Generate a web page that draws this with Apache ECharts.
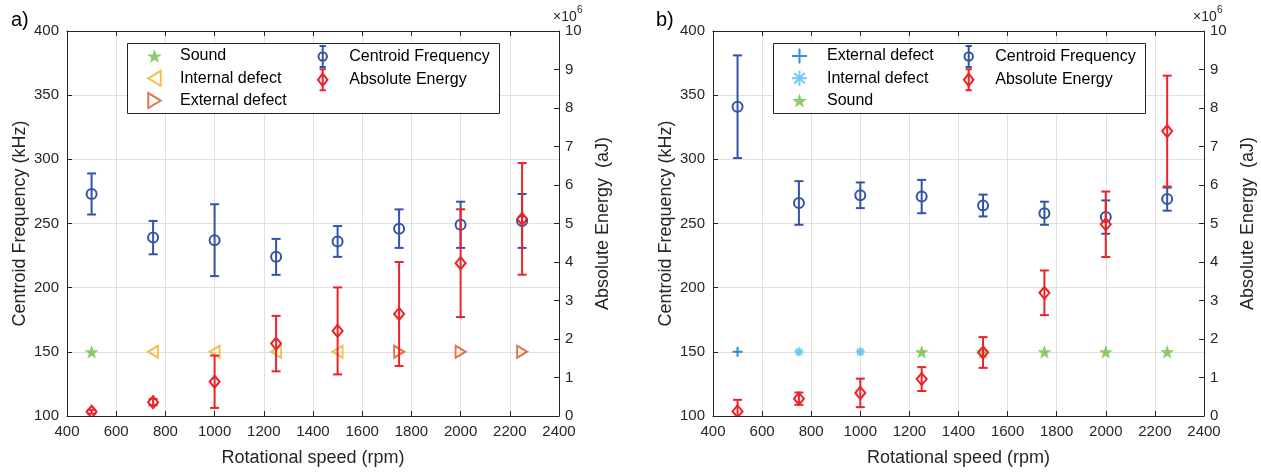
<!DOCTYPE html>
<html><head><meta charset="utf-8">
<script src="https://cdn.jsdelivr.net/npm/echarts@6/dist/echarts.min.js"></script>
<style>html,body{margin:0;padding:0;background:#fff}#c{width:1261px;height:472px}</style>
</head><body><div id="c"></div>
<script>
// ---------- DATA ----------
const rpm = [500, 750, 1000, 1250, 1500, 1750, 2000, 2250];
const xTicks = [400, 2400, 200];          // min, max, step
const cfTicks = [100, 400, 50];
const aeTicks = [0, 10, 1];               // ×10^6 aJ

// Panel a
const cfA    = [273, 239, 237, 224, 236, 246, 249, 252];
const cfErrA = [16, 13, 28, 14, 12, 15, 18, 21];
const aeA    = [0.11, 0.36, 0.89, 1.88, 2.21, 2.65, 3.97, 5.12];   // ×10^6 aJ
const aeErrA = [0.05, 0.08, 0.68, 0.72, 1.13, 1.35, 1.40, 1.45];
const soundA    = [500];
const internalA = [750, 1000, 1250, 1500];
const externalA = [1750, 2000, 2250];

// Panel b
const cfB    = [341, 266, 272, 271, 264, 258, 255, 269];
const cfErrB = [40, 17, 10, 13, 8.5, 9, 13, 9];
const aeB    = [0.12, 0.45, 0.60, 0.96, 1.65, 3.20, 4.98, 7.40];   // ×10^6 aJ
const aeErrB = [0.30, 0.16, 0.37, 0.31, 0.40, 0.58, 0.85, 1.44];
const externalB = [500];
const internalB = [750, 1000];
const soundB    = [1250, 1500, 1750, 2000, 2250];

const classLevel = 150;   // kHz, level at which the class markers are drawn

// ---------- STYLE ----------
const BLUE = '#3354A6', RED = '#EE2229', GREEN = '#6DBE45',
      YEL = '#EDB120', ORG = '#D95319', DBLUE = '#0072BD', LBLUE = '#4DBEEE',
      AX = '#262626', GRID = '#E0E0E0', FONT = 'Liberation Sans, Arial, sans-serif';

const STAR = 'path://M50,0 L61.8,35.1 L98.1,35.1 L68.7,56.7 L79.4,90.5 L50,69.1 L20.6,90.5 L31.3,56.7 L1.9,35.1 L38.2,35.1 Z';
const TRI_L = 'path://M0,6 L10,0 L10,12 Z';
const TRI_R = 'path://M10,6 L0,0 L0,12 Z';
const PLUS = 'path://M0,5 L10,5 M5,0 L5,10';
const AST = 'path://M5,0 L5,10 M0,5 L10,5 M1.5,1.5 L8.5,8.5 M1.5,8.5 L8.5,1.5';
const PHI = 'path://M2,0 L8,0 M5,0 L5,20 M2,20 L8,20 M9,10 A4,4 0 1,1 1,10 A4,4 0 1,1 9,10';
const DIA = 'path://M2,0 L8,0 M5,0 L5,20 M2,20 L8,20 M5,4 L9.5,10 L5,16 L0.5,10 Z';

function errRender(shape, color) {
  return function (params, api) {
    const x = api.value(0), y = api.value(1), e = api.value(2);
    const c = api.coord([x, y]);
    const top = api.coord([x, y + e]);
    const bot = api.coord([x, y - e]);
    const cs = params.coordSys;
    const yMin = cs.y, yMax = cs.y + cs.height;
    const t = Math.max(top[1], yMin), b = Math.min(bot[1], yMax);
    const st = { stroke: color, lineWidth: 2, fill: null };
    const cap = 4.5;
    const ch = [{ type: 'line', shape: { x1: c[0], y1: t, x2: c[0], y2: b }, style: st }];
    if (top[1] >= yMin) ch.push({ type: 'line', shape: { x1: c[0] - cap, y1: top[1], x2: c[0] + cap, y2: top[1] }, style: st });
    if (bot[1] <= yMax) ch.push({ type: 'line', shape: { x1: c[0] - cap, y1: bot[1], x2: c[0] + cap, y2: bot[1] }, style: st });
    if (shape === 'circle') {
      ch.push({ type: 'circle', shape: { cx: c[0], cy: c[1], r: 5 }, style: { stroke: color, lineWidth: 2, fill: 'rgba(0,0,0,0)' } });
    } else {
      ch.push({ type: 'polygon', shape: { points: [[c[0], c[1] - 6], [c[0] + 5, c[1]], [c[0], c[1] + 6], [c[0] - 5, c[1]]] },
                style: { stroke: color, lineWidth: 2, fill: 'rgba(0,0,0,0)' } });
    }
    return { type: 'group', children: ch };
  };
}

function xAxes(grid) {
  const base = { gridIndex: grid, type: 'value', min: xTicks[0], max: xTicks[1], interval: xTicks[2],
    axisLine: { onZero: false, lineStyle: { color: AX, width: 1 } },
    axisTick: { inside: true, length: 5, lineStyle: { color: AX } } };
  return [
    Object.assign({}, base, { position: 'bottom',
      axisLabel: { fontSize: 15, color: AX, margin: 8, fontFamily: FONT, formatter: v => String(v) },
      splitLine: { show: true, lineStyle: { color: GRID, width: 1 } },
      name: 'Rotational speed (rpm)', nameLocation: 'middle', nameGap: 33,
      nameTextStyle: { fontSize: 18, color: AX, fontFamily: FONT } }),
    Object.assign({}, base, { position: 'top', axisLabel: { show: false }, splitLine: { show: false } })
  ];
}
function yAxes(grid) {
  return [
    { gridIndex: grid, type: 'value', position: 'left', min: cfTicks[0], max: cfTicks[1], interval: cfTicks[2],
      axisLine: { show: true, onZero: false, lineStyle: { color: AX } },
      axisTick: { show: true, inside: true, length: 5, lineStyle: { color: AX } },
      axisLabel: { fontSize: 15, color: AX, margin: 8, fontFamily: FONT },
      splitLine: { show: true, lineStyle: { color: GRID, width: 1 } },
      name: 'Centroid Frequency (kHz)', nameLocation: 'middle', nameGap: 38,
      nameTextStyle: { fontSize: 18, color: AX, fontFamily: FONT } },
    { gridIndex: grid, type: 'value', position: 'right', min: aeTicks[0], max: aeTicks[1], interval: aeTicks[2],
      axisLine: { show: true, onZero: false, lineStyle: { color: AX } },
      axisTick: { show: true, inside: true, length: 5, lineStyle: { color: AX } },
      axisLabel: { fontSize: 15, color: AX, margin: 6, fontFamily: FONT },
      splitLine: { show: false },
      name: 'Absolute Energy  (aJ)', nameLocation: 'middle', nameGap: 35,
      nameTextStyle: { fontSize: 18, color: AX, fontFamily: FONT } }
  ];
}

function pts(xs) { return xs.map(x => [x, classLevel]); }
function errData(ys, es) { return rpm.map((r, i) => [r, ys[i], es[i]]); }

const hollow = c => ({ color: 'rgba(0,0,0,0)', borderColor: c, borderWidth: 2 });
const stroke = c => ({ color: 'rgba(0,0,0,0)', borderColor: c, borderWidth: 2 });

const series = [
  // panel a
  { name: 'Sound', type: 'scatter', xAxisIndex: 0, yAxisIndex: 0, data: pts(soundA), symbol: STAR, symbolSize: 14, itemStyle: { color: GREEN }, z: 3 },
  { name: 'Internal defect', type: 'scatter', xAxisIndex: 0, yAxisIndex: 0, data: pts(internalA), symbol: TRI_L, symbolSize: [10, 12], itemStyle: hollow(YEL), z: 3 },
  { name: 'External defect', type: 'scatter', xAxisIndex: 0, yAxisIndex: 0, data: pts(externalA), symbol: TRI_R, symbolSize: [10, 12], itemStyle: hollow(ORG), z: 3 },
  { name: 'Centroid Frequency', type: 'custom', xAxisIndex: 0, yAxisIndex: 0, data: errData(cfA, cfErrA), encode: { x: 0, y: 1 }, renderItem: errRender('circle', BLUE), clip: true, z: 4 },
  { name: 'Absolute Energy', type: 'custom', xAxisIndex: 0, yAxisIndex: 1, data: errData(aeA, aeErrA), encode: { x: 0, y: 1 }, renderItem: errRender('diamond', RED), clip: true, z: 5 },
  // panel b
  { name: 'External defect (b)', type: 'scatter', xAxisIndex: 2, yAxisIndex: 2, data: pts(externalB), symbol: PLUS, symbolSize: 10, itemStyle: stroke(DBLUE), z: 3 },
  { name: 'Internal defect (b)', type: 'scatter', xAxisIndex: 2, yAxisIndex: 2, data: pts(internalB), symbol: AST, symbolSize: 9, itemStyle: stroke(LBLUE), z: 3 },
  { name: 'Sound (b)', type: 'scatter', xAxisIndex: 2, yAxisIndex: 2, data: pts(soundB), symbol: STAR, symbolSize: 14, itemStyle: { color: GREEN }, z: 3 },
  { name: 'Centroid Frequency (b)', type: 'custom', xAxisIndex: 2, yAxisIndex: 2, data: errData(cfB, cfErrB), encode: { x: 0, y: 1 }, renderItem: errRender('circle', BLUE), clip: true, z: 4 },
  { name: 'Absolute Energy (b)', type: 'custom', xAxisIndex: 2, yAxisIndex: 3, data: errData(aeB, aeErrB), encode: { x: 0, y: 1 }, renderItem: errRender('diamond', RED), clip: true, z: 5 }
];

function legend(left, items, iw, ih, pad) {
  return { orient: 'vertical', left: left, top: 45, padding: 0, itemGap: 0.3, itemWidth: iw, itemHeight: ih,
    selectedMode: false, z: 10,
    formatter: n => n.replace(' (b)', ''),
    textStyle: { fontSize: 16, color: '#000', fontFamily: FONT, lineHeight: 22, padding: [0, 0, 0, pad] },
    data: items };
}

const option = {
  animation: false,
  backgroundColor: '#fff',
  textStyle: { fontFamily: FONT },
  title: [
    { text: 'a)', left: 6, top: 5, textStyle: { fontSize: 20, fontWeight: 'normal', color: '#000', fontFamily: FONT } },
    { text: 'b)', left: 651, top: 5, textStyle: { fontSize: 20, fontWeight: 'normal', color: '#000', fontFamily: FONT } }
  ],
  grid: [
    { left: 67, right: 702, top: 31, bottom: 53 },
    { left: 713, right: 57, top: 31, bottom: 53 }
  ],
  xAxis: xAxes(0).concat(xAxes(1)),
  yAxis: yAxes(0).concat(yAxes(1)),
  legend: [
    legend(147, [
      { name: 'Sound', icon: STAR, itemStyle: { color: GREEN } },
      { name: 'Internal defect', icon: TRI_L, itemStyle: hollow(YEL) },
      { name: 'External defect', icon: TRI_R, itemStyle: hollow(ORG) }
    ], 15, 15, 13),
    legend(317, [
      { name: 'Centroid Frequency', icon: PHI, itemStyle: stroke(BLUE) },
      { name: 'Absolute Energy', icon: DIA, itemStyle: stroke(RED) }
    ], 11, 21, 16),
    legend(791, [
      { name: 'External defect (b)', icon: PLUS, itemStyle: stroke(DBLUE) },
      { name: 'Internal defect (b)', icon: AST, itemStyle: stroke(LBLUE) },
      { name: 'Sound (b)', icon: STAR, itemStyle: { color: GREEN } }
    ], 15, 15, 15),
    legend(963, [
      { name: 'Centroid Frequency (b)', icon: PHI, itemStyle: stroke(BLUE) },
      { name: 'Absolute Energy (b)', icon: DIA, itemStyle: stroke(RED) }
    ], 11, 21, 16)
  ],
  graphic: [
    { type: 'rect', left: 127, top: 43, z: 8, shape: { width: 372, height: 70 }, style: { fill: '#fff', stroke: AX, lineWidth: 1 } },
    { type: 'rect', left: 773, top: 43, z: 8, shape: { width: 372, height: 70 }, style: { fill: '#fff', stroke: AX, lineWidth: 1 } },
    { type: 'text', left: 553, top: 10, z: 9, style: { text: '×10', fontSize: 14, fill: AX, fontFamily: FONT } },
    { type: 'text', left: 577, top: 5, z: 9, style: { text: '6', fontSize: 10, fill: AX, fontFamily: FONT } },
    { type: 'text', left: 1193, top: 10, z: 9, style: { text: '×10', fontSize: 14, fill: AX, fontFamily: FONT } },
    { type: 'text', left: 1217, top: 5, z: 9, style: { text: '6', fontSize: 10, fill: AX, fontFamily: FONT } }
  ],
  series: series
};

const chart = echarts.init(document.getElementById('c'), null, { renderer: 'canvas' });
chart.setOption(option);
</script>
</body></html>
